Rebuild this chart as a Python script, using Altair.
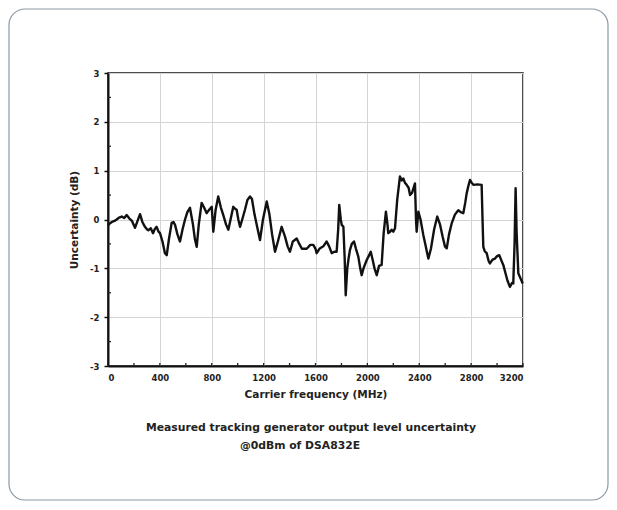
import altair as alt
import pandas as pd

freq_mhz = [0, 10, 30, 50, 67, 85, 106, 125, 144, 165, 185, 208, 225, 247, 265, 285, 300, 311, 330, 347,
            360, 375, 390, 401, 420, 439, 453, 470, 491, 505, 517, 535, 555, 575, 594, 612, 632, 655, 670, 684,
            700, 722, 740, 761, 780, 800, 812, 830, 850, 870, 889, 910, 928, 945, 966, 980, 992, 1005, 1018, 1035,
            1056, 1075, 1095, 1110, 1130, 1150, 1172, 1195, 1224, 1245, 1265, 1288, 1310, 1339, 1365, 1385, 1403, 1425, 1455, 1475,
            1495, 1532, 1560, 1583, 1600, 1609, 1630, 1660, 1686, 1705, 1725, 1745, 1763, 1775, 1783, 1795, 1802, 1815, 1825, 1833,
            1845, 1855, 1866, 1880, 1897, 1912, 1930, 1945, 1956, 1970, 1995, 2010, 2026, 2041, 2055, 2072, 2090, 2110, 2125, 2143,
            2155, 2161, 2175, 2187, 2200, 2213, 2230, 2251, 2265, 2277, 2290, 2303, 2318, 2329, 2345, 2367, 2375, 2380, 2393, 2410,
            2430, 2450, 2470, 2490, 2515, 2539, 2560, 2580, 2598, 2612, 2630, 2650, 2675, 2701, 2720, 2740, 2755, 2766, 2780, 2791,
            2805, 2817, 2850, 2881, 2888, 2894, 2905, 2920, 2935, 2945, 2965, 2984, 3000, 3017, 3035, 3048, 3065, 3080, 3099, 3115,
            3125, 3135, 3143, 3151, 3164, 3180, 3198]
uncertainty_db = [-0.12, -0.09, -0.05, -0.03, 0.0, 0.04, 0.06, 0.03, 0.09, 0.02, -0.03, -0.17, -0.05, 0.11, -0.05, -0.15, -0.2, -0.22, -0.18, -0.28,
                  -0.2, -0.15, -0.25, -0.28, -0.45, -0.69, -0.73, -0.4, -0.07, -0.05, -0.11, -0.3, -0.45, -0.2, 0.0, 0.15, 0.24, -0.1, -0.4, -0.56,
                  -0.1, 0.34, 0.25, 0.13, 0.2, 0.26, -0.25, 0.2, 0.47, 0.25, 0.09, -0.1, -0.21, 0.0, 0.26, 0.22, 0.2, 0.0, -0.15, 0.0,
                  0.2, 0.4, 0.47, 0.42, 0.1, -0.15, -0.42, 0.0, 0.37, 0.1, -0.3, -0.66, -0.45, -0.15, -0.35, -0.55, -0.66, -0.45, -0.39, -0.5,
                  -0.6, -0.6, -0.52, -0.52, -0.6, -0.69, -0.6, -0.55, -0.45, -0.55, -0.69, -0.66, -0.66, -0.2, 0.3, 0.0, -0.11, -0.15, -0.8, -1.55,
                  -1.0, -0.8, -0.62, -0.5, -0.45, -0.6, -0.76, -1.0, -1.14, -1.0, -0.83, -0.75, -0.66, -0.83, -1.0, -1.14, -0.95, -0.93, -0.3, 0.16,
                  -0.1, -0.28, -0.25, -0.21, -0.25, -0.18, 0.4, 0.88, 0.8, 0.84, 0.75, 0.71, 0.65, 0.5, 0.55, 0.74, 0.0, -0.25, 0.16, 0.0,
                  -0.3, -0.55, -0.8, -0.6, -0.2, 0.06, -0.1, -0.35, -0.55, -0.59, -0.3, -0.08, 0.1, 0.19, 0.15, 0.13, 0.35, 0.54, 0.7, 0.81,
                  0.75, 0.71, 0.72, 0.71, 0.0, -0.56, -0.65, -0.69, -0.85, -0.9, -0.82, -0.8, -0.75, -0.73, -0.85, -0.93, -1.1, -1.25, -1.38, -1.3,
                  -1.31, -0.5, 0.64, -0.28, -1.1, -1.2, -1.31]

x_major_ticks = [0, 400, 800, 1200, 1600, 2000, 2400, 2800, 3200]
x_minor_ticks = [200, 600, 1000, 1400, 1800, 2200, 2600, 3000]
y_major_ticks = [-3, -2, -1, 0, 1, 2, 3]
y_minor_ticks = [-2.5, -1.5, -0.5, 0.5, 1.5, 2.5]

x_title = "Carrier frequency (MHz)"
y_title = "Uncertainty (dB)"
caption_lines = ["Measured tracking generator output level uncertainty", "@0dBm of DSA832E"]

FONT = "DejaVu Sans"
W, H = 415, 293
LABEL_EXPR = "datum.value < 0 ? '-' + abs(datum.value) : '' + datum.value"

df = pd.DataFrame({"f": freq_mhz, "u": uncertainty_db})
xs = alt.Scale(domain=[0, 3200], nice=False, zero=False)
ys = alt.Scale(domain=[-3, 3], nice=False, zero=False)

frame = alt.Chart(pd.DataFrame({"a": [0]})).mark_rect(
    fill="transparent", stroke="#8d9aa6", strokeWidth=1.2, cornerRadius=16
).encode(x=alt.value(-99), x2=alt.value(500), y=alt.value(-64), y2=alt.value(427))

line = alt.Chart(df).mark_line(color="#111111", strokeWidth=2.4, strokeJoin="round").encode(
    x=alt.X("f:Q", scale=xs, title=x_title,
            axis=alt.Axis(values=x_major_ticks, grid=True, ticks=False, labelPadding=7,
                          labelExpr=LABEL_EXPR, titlePadding=8, domainWidth=2, domainColor="#111111")),
    y=alt.Y("u:Q", scale=ys, title=y_title,
            axis=alt.Axis(values=y_major_ticks, grid=True, tickSize=4, tickWidth=1.5, tickColor="#111111",
                          labelExpr=LABEL_EXPR, labelPadding=5, titlePadding=10,
                          domainWidth=2, domainColor="#111111")),
)

xminor = alt.Chart(pd.DataFrame({"f": x_minor_ticks + x_major_ticks})).mark_rule(
    color="#222222", strokeWidth=1.3
).encode(x=alt.X("f:Q", scale=xs), y=alt.value(H), y2=alt.value(H - 3))

yminor = alt.Chart(pd.DataFrame({"u": y_minor_ticks})).mark_rule(
    color="#222222", strokeWidth=1.3
).encode(y=alt.Y("u:Q", scale=ys), x=alt.value(0), x2=alt.value(3))

cap_df = pd.DataFrame({"t": caption_lines, "cx": [203, 192], "cy": [355, 373]})
caption = alt.Chart(cap_df).mark_text(
    font=FONT, fontSize=10.8, fontWeight="bold", color="#222222", align="center", baseline="middle"
).encode(text="t:N", x=alt.X("cx:Q", scale=None), y=alt.Y("cy:Q", scale=None))

chart = alt.layer(frame, line, xminor, yminor, caption).properties(
    width=W, height=H,
    autosize=alt.AutoSizeParams(type="none"),
    padding={"left": 100, "top": 65, "right": 86, "bottom": 136},
).configure_view(stroke="#111111", strokeWidth=1.5).configure_axis(
    labelFont=FONT, labelFontSize=8.5, labelFontWeight="bold", labelColor="#222222",
    titleFont=FONT, titleFontSize=10.5, titleFontWeight="bold", titleColor="#222222",
    gridColor="#d4d4d4", gridWidth=1,
)

chart.save("out.html", embed_options={"renderer": "svg", "actions": False})
